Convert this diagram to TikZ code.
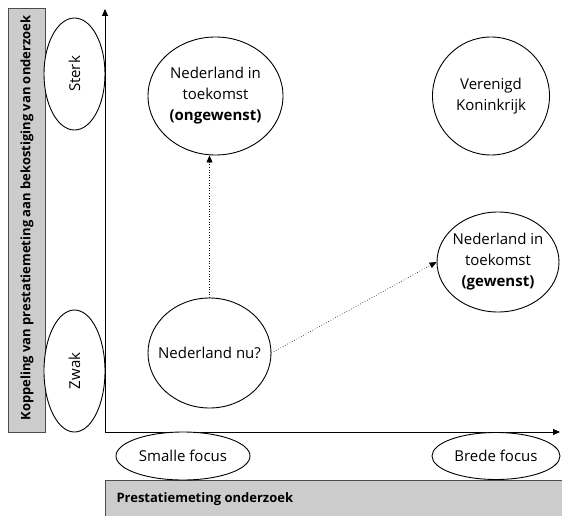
\documentclass[tikz,border=0pt]{standalone}
\usepackage{fontspec}
\setmainfont{Open Sans}
\usetikzlibrary{arrows.meta,shapes.geometric}
\begin{document}
\begin{tikzpicture}[x=1pt,y=-1pt,
  lbl/.style={draw=black,line width=0.9pt,fill=white,ellipse,inner sep=-25pt,align=center,font=\fontsize{15}{21}\selectfont},
  graybox/.style={draw=black!70,fill=black!20,line width=0.8pt},
  axis/.style={line width=0.9pt,-{Triangle[length=7pt,width=6pt]}},
  move/.style={dotted,line width=0.6pt,-{Triangle[length=7pt,width=6pt]}}]
\useasboundingbox (0,0) rectangle (562,516);
% gray boxes
\draw[graybox] (8,8) rectangle (45,432);
\node[rotate=90,font=\bfseries\fontsize{13}{15}\selectfont] (ylab) at (27,218) {Koppeling van prestatiemeting aan bekostiging van onderzoek};
\draw[graybox] (105,480) rectangle (565,520);
\node[anchor=west,font=\bfseries\fontsize{13}{15}\selectfont] (xlab) at (113,499) {Prestatiemeting onderzoek};
% axes
\coordinate (o) at (105,432);
\coordinate (ytop) at (105,9);
\coordinate (xend) at (560,432);
\draw[axis] (o) -- (ytop);
\draw[axis] (o) -- (xend);
% axis ellipses
\node[lbl,minimum width=112pt,minimum height=61pt,rotate=90] (sterk) at (74.5,74) {Sterk};
\node[lbl,minimum width=122pt,minimum height=61pt,rotate=90] (zwak) at (74.5,371) {Zwak};
\node[lbl,minimum width=134pt,minimum height=48pt] (smal) at (183,456) {Smalle focus};
\node[lbl,minimum width=128pt,minimum height=47pt] (breed) at (496,456) {Brede focus};
% situation ellipses
\node[lbl,minimum width=135pt,minimum height=118pt] (ong) at (215.5,96) {Nederland in\\toekomst\\\textbf{(ongewenst)}};
\node[lbl,minimum width=117pt,minimum height=118pt] (vk) at (491,96) {Verenigd\\Koninkrijk};
\node[lbl,minimum width=122pt,minimum height=100pt] (gew) at (498,262) {Nederland in\\toekomst\\\textbf{(gewenst)}};
\node[lbl,minimum width=123pt,minimum height=110pt] (nu) at (209.5,353) {Nederland nu?};
% moves
\draw[move] (nu.north) -- (nu.north |- ong.south);
\draw[move] (nu.east) -- (gew.west);
\end{tikzpicture}
\end{document}
